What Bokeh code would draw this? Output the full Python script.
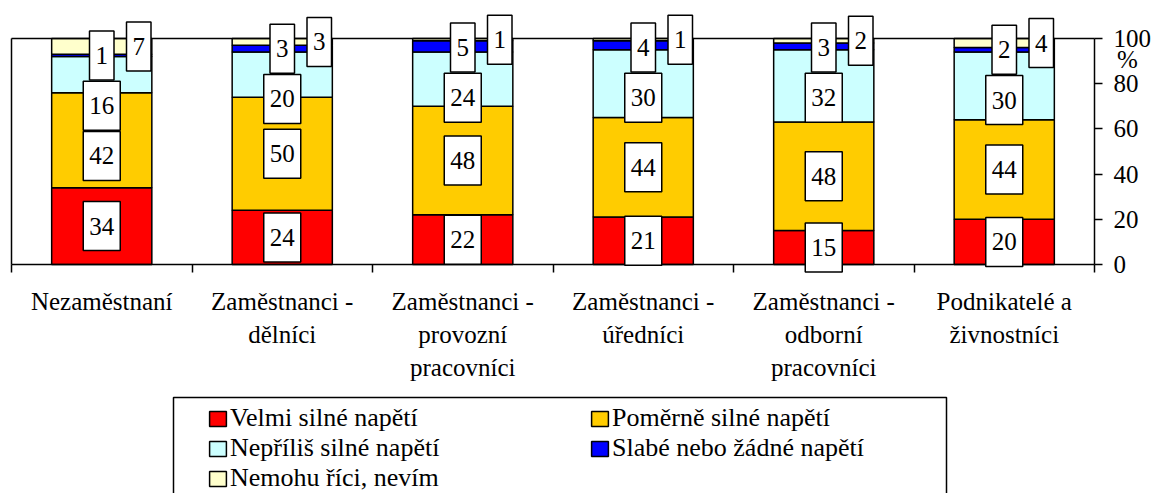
from bokeh.plotting import figure
from bokeh.models import (ColumnDataSource, Range1d, LinearAxis, FixedTicker,
                          Legend, LegendItem, BoxAnnotation, Label)
from bokeh.embed import file_html
from bokeh.resources import INLINE

# ---- data ----
categories = ["Nezaměstnaní", "Zaměstnanci -\ndělníci", "Zaměstnanci -\nprovozní\npracovníci",
              "Zaměstnanci -\núředníci", "Zaměstnanci -\nodborní\npracovníci", "Podnikatelé a\nživnostníci"]
velmi = [34, 24, 22, 21, 15, 20]
pomerne = [42, 50, 48, 44, 48, 44]
nepriliz = [16, 20, 24, 30, 32, 30]
slabe = [1, 3, 5, 4, 3, 2]
nevim = [7, 3, 1, 1, 2, 4]
series_names = ["Velmi silné napětí", "Poměrně silné napětí", "Nepříliš silné napětí",
                "Slabé nebo žádné napětí", "Nemohu říci, nevím"]
colors = ["#FF0000", "#FFCC00", "#CCFFFF", "#0000FF", "#FFFFCC"]
y_ticks = [0, 20, 40, 60, 80, 100]

FONT = "Liberation Serif"
W, H = 1156, 493
PL, PR, PT, PB = 11, 1094, 38, 264      # plot area inside the canvas (px)
n = len(categories)
px_x = (PR - PL) / n
px_y = (PB - PT) / 100.0

p = figure(width=W, height=H, min_border=0, x_axis_type=None, y_axis_type=None,
           output_backend="svg", toolbar_location=None)
p.x_range = Range1d(-PL / px_x, (W - PL) / px_x)
p.y_range = Range1d(-(H - PB) / px_y, 100 + PT / px_y)
p.xgrid.visible = False
p.ygrid.visible = False
p.outline_line_color = None
p.background_fill_color = "white"
p.border_fill_color = "white"

xs = [i + 0.5 for i in range(n)]
keys = ["velmi", "pomerne", "nepriliz", "slabe", "nevim"]
src = ColumnDataSource(dict(x=xs, velmi=velmi, pomerne=pomerne, nepriliz=nepriliz,
                            slabe=slabe, nevim=nevim))
bar_w = 0.555
rs = p.vbar_stack(keys, x="x", width=bar_w, source=src, fill_color=colors,
                  line_color="black", line_width=1.5)

# ---- axes ----
xax = LinearAxis(fixed_location=0, bounds=(0, n),
                 ticker=FixedTicker(ticks=xs, minor_ticks=list(range(n + 1))))
xax.major_label_overrides = {x: c for x, c in zip(xs, categories)}
xax.major_tick_out = 0
xax.major_tick_in = 0
xax.minor_tick_out = 8
xax.minor_tick_in = 0
xax.minor_tick_line_color = "black"
xax.minor_tick_line_width = 1.5
xax.axis_line_width = 1.5
xax.major_label_text_font = FONT
xax.major_label_text_font_size = "25px"
xax.major_label_text_color = "black"
xax.major_label_text_line_height = 1.23
xax.major_label_standoff = 15
p.add_layout(xax, "below")

yax = LinearAxis(fixed_location=n, bounds=(0, 100), ticker=FixedTicker(ticks=y_ticks, minor_ticks=[]))
yax.major_tick_out = 8
yax.major_tick_in = 0
yax.major_tick_line_width = 1.5
yax.axis_line_width = 1.5
yax.major_label_text_font = FONT
yax.major_label_text_font_size = "25px"
yax.major_label_text_color = "black"
yax.major_label_standoff = 11
p.add_layout(yax, "right")

# frame lines (top and left) as bare axes
topax = LinearAxis(fixed_location=100, bounds=(0, n), ticker=FixedTicker(ticks=[], minor_ticks=[]))
topax.axis_line_width = 1.5
topax.major_label_text_font_size = "0px"
p.add_layout(topax, "above")
leftax = LinearAxis(fixed_location=0, bounds=(0, 100), ticker=FixedTicker(ticks=[], minor_ticks=[]))
leftax.axis_line_width = 1.5
leftax.major_label_text_font_size = "0px"
p.add_layout(leftax, "left")

p.add_layout(Label(x=n, y=100, x_offset=33, y_offset=-21, text="%", text_font=FONT,
                   text_font_size="25px", text_color="black",
                   text_align="center", text_baseline="middle"))

# ---- value labels in boxes ----
box_h = 48 / px_y
gap = 1.0
for i in range(n):
    vals = [velmi[i], pomerne[i], nepriliz[i], slabe[i], nevim[i]]
    bottoms = [sum(vals[:k]) for k in range(5)]
    mids = [bottoms[k] + vals[k] / 2 for k in range(5)]
    y_blue = min(mids[3], 96)
    y_cyan = min(mids[2], y_blue - box_h - gap)
    y_orange = min(mids[1], y_cyan - box_h - gap)
    y_red = min(mids[0], y_orange - box_h - gap)
    y_cream = mids[4]
    for k, yy, off in [(0, y_red, 0), (1, y_orange, 0), (2, y_cyan, 0), (3, y_blue, 0), (4, y_cream, 37)]:
        p.add_layout(Label(x=xs[i], y=yy, x_offset=off, text=str(vals[k]),
                           text_font=FONT, text_font_size="25px", text_color="black",
                           text_align="center", text_baseline="middle",
                           background_fill_color="white",
                           border_line_color="black", border_line_width=1.5,
                           padding=(6, 16)))

# ---- legend ----
items = [LegendItem(label=nm, renderers=[r]) for nm, r in zip(series_names, rs)]
legend = Legend(items=items, location=(207, 0), orientation="horizontal", ncols=2,
                label_text_font=FONT, label_text_font_size="26px", label_text_color="black",
                glyph_width=21, glyph_height=19,
                label_standoff=2, spacing=0, padding=6, margin=0, border_line_color=None,
                background_fill_alpha=0, label_width=359, label_height=28)
p.add_layout(legend)

# legend frame
p.add_layout(BoxAnnotation(left=(173 - PL) / px_x, right=(946 - PL) / px_x,
                           top=-(397 - PB) / px_y, bottom=p.y_range.start - 10,
                           fill_alpha=0, line_color="black", line_alpha=1.0, line_width=1.5))

open("out.html", "w").write(file_html(p, INLINE))
